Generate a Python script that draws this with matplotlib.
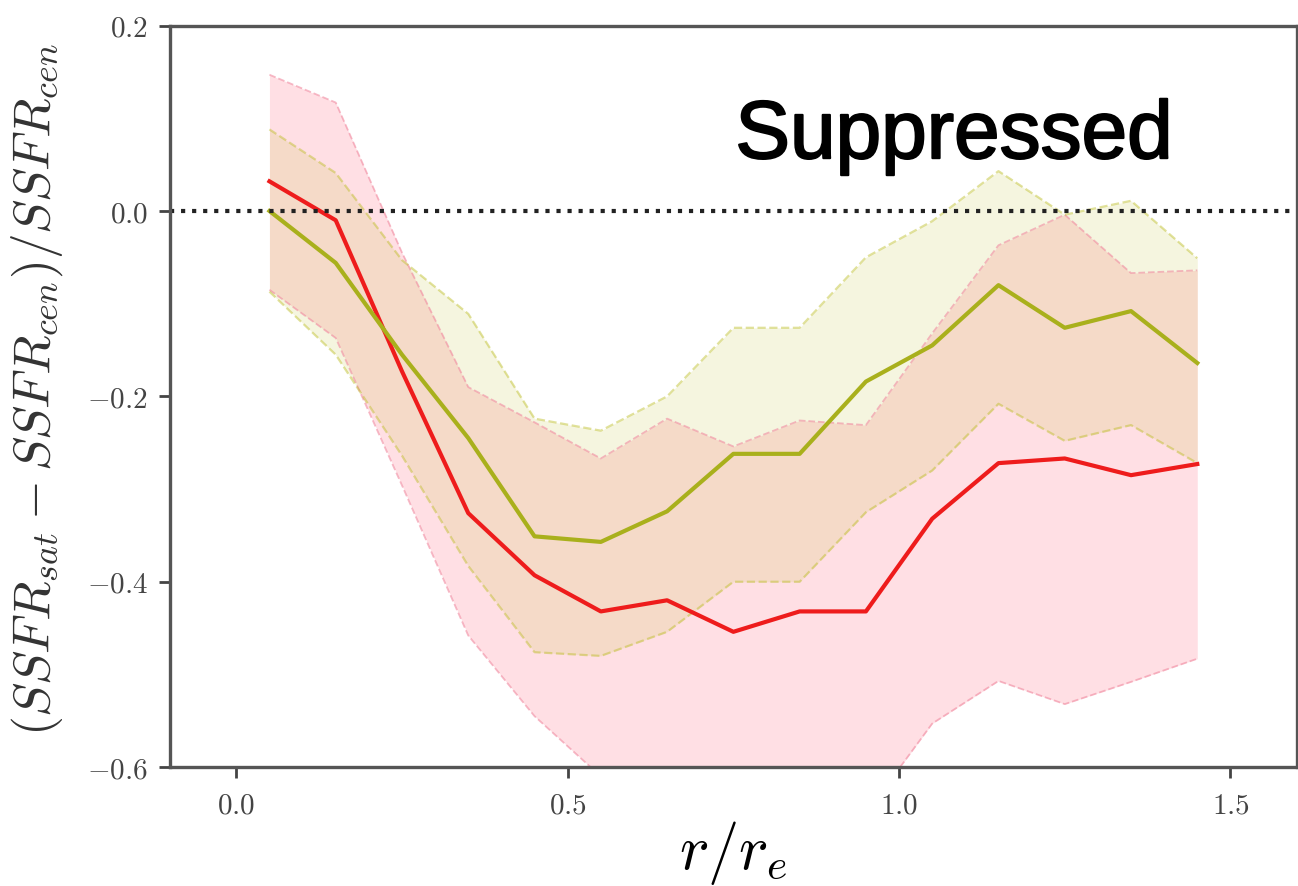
import matplotlib
matplotlib.use("Agg")
from matplotlib import pyplot as plt
import matplotlib.patheffects as pe

plt.rcParams['font.family'] = 'serif'
plt.rcParams['font.serif'] = ['cmr10']
plt.rcParams['mathtext.fontset'] = 'cm'
plt.rcParams['axes.formatter.use_mathtext'] = True

r = [0.05, 0.15, 0.25, 0.35, 0.45, 0.55, 0.65, 0.75, 0.85, 0.95, 1.05, 1.15, 1.25, 1.35, 1.45]

red_mid = [0.032, -0.01, -0.173, -0.326, -0.393, -0.432, -0.42, -0.454, -0.432, -0.432, -0.332, -0.272, -0.267, -0.285, -0.273]
red_hi = [0.147, 0.117, -0.045, -0.19, -0.228, -0.267, -0.224, -0.254, -0.226, -0.231, -0.132, -0.037, -0.004, -0.067, -0.064]
red_lo = [-0.085, -0.137, -0.296, -0.458, -0.545, -0.61, -0.66, -0.70, -0.68, -0.65, -0.553, -0.507, -0.532, -0.508, -0.483]

olive_mid = [0.0, -0.056, -0.155, -0.245, -0.351, -0.357, -0.324, -0.262, -0.262, -0.184, -0.145, -0.08, -0.126, -0.108, -0.164]
olive_hi = [0.088, 0.041, -0.053, -0.111, -0.224, -0.237, -0.2, -0.126, -0.126, -0.05, -0.011, 0.043, -0.004, 0.011, -0.051]
olive_lo = [-0.087, -0.155, -0.264, -0.383, -0.476, -0.48, -0.454, -0.40, -0.40, -0.325, -0.28, -0.208, -0.248, -0.231, -0.272]

xticks = [0.0, 0.5, 1.0, 1.5]
yticks = [-0.6, -0.4, -0.2, 0.0, 0.2]

fig = plt.figure(figsize=(12.98, 8.87), dpi=100)
ax = fig.add_axes([0.131, 0.134, 0.868, 0.836])

# bands
ax.fill_between(r, red_lo, red_hi, color='pink', alpha=0.5, lw=0)
ax.plot(r, red_hi, '--', color='#f08aa0', alpha=0.6, lw=1.3)
ax.plot(r, red_lo, '--', color='#f08aa0', alpha=0.6, lw=1.3)
ax.fill_between(r, olive_lo, olive_hi, color='#bcbd22', alpha=0.14, lw=0)
ax.plot(r, olive_hi, '--', color='#bcbd22', alpha=0.45, lw=1.6)
ax.plot(r, olive_lo, '--', color='#bcbd22', alpha=0.45, lw=1.6)

ax.plot(r, red_mid, color='#ee1c1c', lw=3)
ax.plot(r, olive_mid, color='#a9b01c', lw=3)

ax.axhline(0, color='#222222', ls=':', lw=3)

ax.set_xlim(-0.1, 1.6)
ax.set_ylim(-0.6, 0.2)
ax.set_xticks(xticks)
ax.set_yticks(yticks)
ax.tick_params(labelsize=21, colors='#444444', width=2, length=8)
ax.tick_params(axis='x', pad=10)
ax.tick_params(axis='y', pad=8)
for s in ax.spines.values():
    s.set_color('#555555')
    s.set_linewidth(2.4)

ax.set_xlabel(r'$r/r_e$', fontsize=45, labelpad=0)
ax.set_ylabel(r'$(SSFR_{sat}-SSFR_{cen})/SSFR_{cen}$', fontsize=37, color='#333333')
ax.yaxis.set_label_coords(-0.093, 0.51)

ax.text(0.753, 0.057, 'Suppressed', family='Liberation Sans', fontsize=59,
        ha='left', va='baseline', color='black',
        path_effects=[pe.withStroke(linewidth=1.5, foreground='black')])

fig.savefig('out.png', dpi=100)
